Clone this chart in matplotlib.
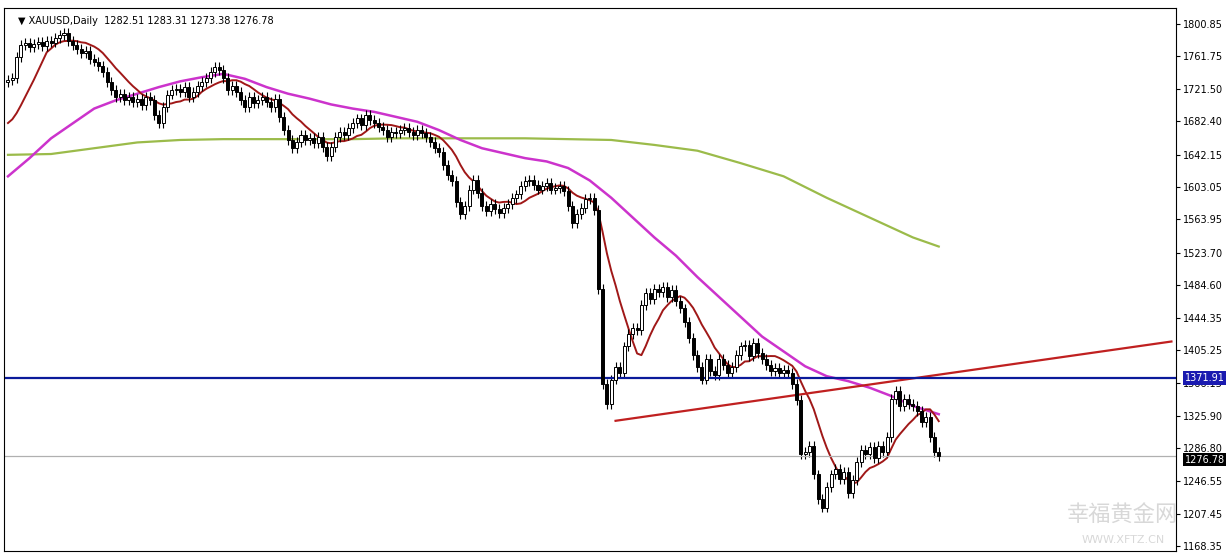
import matplotlib
matplotlib.use('Agg')
import matplotlib.pyplot as plt
import numpy as np
import pandas as pd

plt.rcParams['font.family'] = ['DejaVu Sans', 'Noto Sans CJK SC']

closes = [
    1733, 1735, 1760, 1775, 1778, 1772, 1776, 1779, 1774, 1780,
    1778, 1783, 1787, 1790, 1780, 1775, 1770, 1765, 1768, 1758,
    1755, 1750, 1742, 1730, 1720, 1712, 1716, 1708, 1712, 1706,
    1710, 1702, 1712, 1708, 1690, 1680, 1700, 1715, 1720, 1722,
    1718, 1724, 1712, 1718, 1725, 1730, 1735, 1742, 1748, 1745,
    1735, 1720, 1725, 1718, 1708, 1700, 1712, 1705, 1708, 1712,
    1706, 1700, 1710, 1688, 1672, 1660, 1650, 1658, 1666, 1660,
    1662, 1656, 1664, 1652, 1640, 1652, 1664, 1670, 1666, 1674,
    1680, 1686, 1678, 1690, 1684, 1680, 1676, 1672, 1664, 1670,
    1668, 1672, 1674, 1670, 1666, 1672, 1668, 1664, 1658, 1650,
    1645, 1630, 1618, 1610, 1585, 1570, 1580, 1600, 1612, 1596,
    1580, 1574, 1582, 1576, 1572, 1578, 1582, 1590, 1594, 1604,
    1610, 1612, 1606, 1600, 1604, 1608, 1600, 1602, 1604, 1598,
    1580, 1560, 1570, 1578, 1588, 1590, 1575, 1480, 1365, 1340,
    1370, 1385, 1378, 1410, 1425, 1432, 1430, 1460, 1475, 1468,
    1480, 1476, 1482, 1470, 1478, 1465, 1456, 1440, 1420, 1400,
    1385, 1370, 1395, 1380, 1375, 1395, 1388, 1378, 1385, 1400,
    1410, 1412, 1398, 1414, 1402, 1395, 1388, 1380, 1384, 1378,
    1382, 1378, 1365, 1345, 1280, 1282, 1290, 1255, 1225, 1215,
    1240, 1255, 1262, 1250, 1258, 1232, 1248, 1270, 1285, 1280,
    1288, 1275, 1290, 1282, 1300, 1346, 1356, 1338, 1346, 1340,
    1338, 1332, 1318, 1325, 1300, 1282, 1276.78,
]
prev_closes = [1690, 1685, 1680, 1676, 1672, 1670, 1668, 1666, 1665]

# slow moving averages, at candle indices
ma50_idx = list(range(0, 215, 5)) + [216]
ma50 = [1616, 1638, 1662, 1680, 1698, 1708, 1716, 1724, 1731, 1736, 1740,
        1734, 1724, 1716, 1710, 1703, 1698, 1694, 1688, 1682, 1672, 1660,
        1650, 1644, 1638, 1634, 1626, 1611, 1590, 1566, 1542, 1520, 1494,
        1470, 1446, 1422, 1404, 1386, 1374, 1368, 1360, 1350, 1338, 1328]
ma200_idx = [0, 10, 20, 30, 40, 50, 60, 70, 80, 90, 100, 110, 120, 130, 140,
             150, 160, 170, 180, 190, 200, 210, 216]
ma200 = [1642, 1643, 1650, 1657, 1660, 1661, 1661, 1661, 1661, 1662, 1662,
         1662, 1662, 1661, 1660, 1654, 1647, 1632, 1616, 1590, 1566, 1542, 1531]

trend_x = [141, 270]
trend_y = [1320, 1416]
hline_blue = 1371.91
last_price = 1276.78
yticks = [1800.85, 1761.75, 1721.50, 1682.40, 1642.15, 1603.05, 1563.95, 1523.70,
          1484.60, 1444.35, 1405.25, 1366.15, 1325.90, 1286.80, 1246.55, 1207.45, 1168.35]

n = len(closes)
x = np.arange(n)
c = np.array(closes, dtype=float)
o = np.concatenate([[1730], c[:-1]])
hi = np.maximum(o, c) + 6
lo = np.minimum(o, c) - 6
ma_fast = pd.Series(prev_closes + closes).rolling(10).mean().values[len(prev_closes):]

fig = plt.figure(figsize=(12.26, 5.58), dpi=100)
ax = fig.add_axes([0.003, 0.012, 0.956, 0.974])

ax.plot(ma200_idx, ma200, color='#9bbb4a', lw=1.6)
ax.plot(ma50_idx, ma50, color='#cc33cc', lw=1.8)
ax.plot(x, ma_fast, color='#a01818', lw=1.4)

for i in range(n):
    ax.vlines(x[i], lo[i], hi[i], color='black', lw=0.8)
    bull = c[i] >= o[i]
    b0, bh = min(o[i], c[i]), max(abs(c[i] - o[i]), 0.8)
    ax.add_patch(plt.Rectangle((x[i] - 0.35, b0), 0.7, bh,
                               facecolor='white' if bull else 'black',
                               edgecolor='black', lw=0.7, zorder=3))

ax.plot(trend_x, trend_y, color='#c02020', lw=1.6)
ax.axhline(hline_blue, color='#0a1a9a', lw=1.6)
ax.axhline(last_price, color='#b0b0b0', lw=0.9)

ax.set_xlim(-1, 271)
ax.set_ylim(1162, 1820)
ax.set_xticks([])
ax.yaxis.tick_right()
ax.set_yticks(yticks)
ax.set_yticklabels([f'{v:.2f}' for v in yticks], fontsize=7)
ax.tick_params(axis='y', length=3, pad=2)

ax.text(1.0075, hline_blue, f'{hline_blue:.2f}', transform=ax.get_yaxis_transform(),
        fontsize=7, color='white', va='center', ha='left', zorder=10,
        bbox=dict(facecolor='#1a1ab0', edgecolor='none', pad=1.2))
ax.text(1.0075, last_price - 4, f'{last_price:.2f}', transform=ax.get_yaxis_transform(),
        fontsize=7, color='white', va='center', ha='left', zorder=10,
        bbox=dict(facecolor='black', edgecolor='none', pad=1.2))

ax.text(0.012, 0.985, '▼ XAUUSD,Daily  1282.51 1283.31 1273.38 1276.78',
        transform=ax.transAxes, fontsize=7, va='top')
ax.text(0.955, 0.055, '幸福黄金网', transform=ax.transAxes, fontsize=16,
        color='#d8d8d8', ha='center', family=['Noto Sans CJK SC'], zorder=0)
ax.text(0.955, 0.015, 'WWW.XFTZ.CN', transform=ax.transAxes, fontsize=8,
        color='#d8d8d8', ha='center', zorder=0)

fig.savefig('out.png', dpi=100)
